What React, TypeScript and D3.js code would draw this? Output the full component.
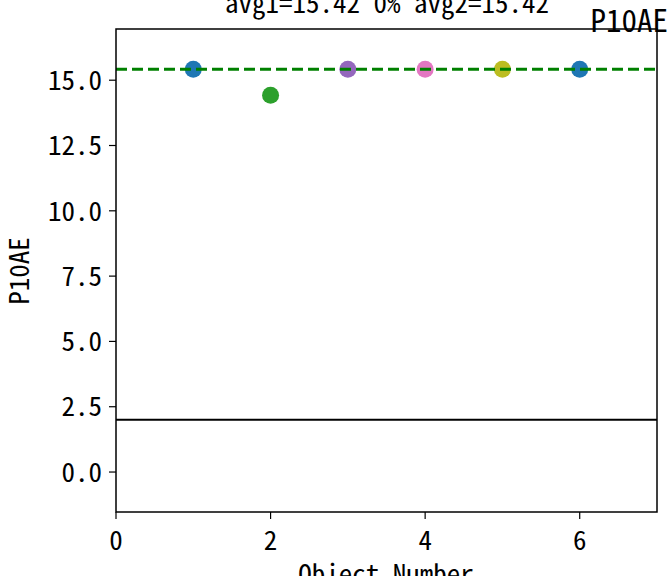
import React from "react";
import * as d3 from "d3";

const xValues = [1, 2, 3, 4, 5, 6];
const yValues = [15.42, 14.42, 15.42, 15.42, 15.42, 15.42];
const pointColors = ["#1f77b4", "#2ca02c", "#9467bd", "#e377c2", "#bcbd22", "#1f77b4"];
const avgValue = 15.42;
const thresholdValue = 2;
const xTicks = [0, 2, 4, 6];
const yTicks = [0, 2.5, 5, 7.5, 10, 12.5, 15];
const titleText = "avg1=15.42 0% avg2=15.42";
const cornerText = "P10AE";
const yLabel = "P10AE";
const xLabel = "Object Number";

const W = 669;
const H = 576;
const left = 116;
const right = 657;
const top = 29;
const bottom = 512;
const font = "'Noto Sans Mono CJK JP', 'Noto Sans CJK JP', 'DejaVu Sans', sans-serif";

export default function App() {
  const x = d3.scaleLinear().domain([0, 7]).range([left, right]);
  const y = d3.scaleLinear().domain([-1.53, 16.96]).range([bottom, top]);
  return (
    <svg width={W} height={H} style={{ position: "absolute", left: 0, top: 0, background: "#fff" }}>
      <rect x={0} y={0} width={W} height={H} fill="#fff" />
      <text x={387} y={13} textAnchor="middle" fontFamily={font} fontSize={27}>{titleText}</text>
      <text x={668} y={32} textAnchor="end" fontFamily={font} fontSize={31}>{cornerText}</text>
      {/* threshold line */}
      <line x1={left} x2={right} y1={y(thresholdValue)} y2={y(thresholdValue)} stroke="#000" strokeWidth={2} />
      {/* points */}
      {xValues.map((v, i) => (
        <circle key={i} cx={x(v)} cy={y(yValues[i])} r={8.5} fill={pointColors[i]} />
      ))}
      {/* avg line */}
      <line x1={left} x2={right} y1={y(avgValue)} y2={y(avgValue)} stroke="#008000" strokeWidth={3} strokeDasharray="11,5" />
      {/* axes frame */}
      <rect x={left} y={top} width={right - left} height={bottom - top} fill="none" stroke="#000" strokeWidth={1.5} />
      {yTicks.map((t) => (
        <g key={t}>
          <line x1={left - 7} x2={left} y1={y(t)} y2={y(t)} stroke="#000" strokeWidth={1.2} />
          <text x={left - 14} y={y(t)} dy="0.36em" textAnchor="end" fontFamily={font} fontSize={27}>{t.toFixed(1)}</text>
        </g>
      ))}
      {xTicks.map((t) => (
        <g key={t}>
          <line x1={x(t)} x2={x(t)} y1={bottom} y2={bottom + 7} stroke="#000" strokeWidth={1.2} />
          <text x={x(t)} y={bottom + 28} dy="0.36em" textAnchor="middle" fontFamily={font} fontSize={27}>{t}</text>
        </g>
      ))}
      <text transform={`translate(29,${271}) rotate(-90)`} textAnchor="middle" fontFamily={font} fontSize={27}>{yLabel}</text>
      <text x={386} y={584} textAnchor="middle" fontFamily={font} fontSize={27}>{xLabel}</text>
    </svg>
  );
}
